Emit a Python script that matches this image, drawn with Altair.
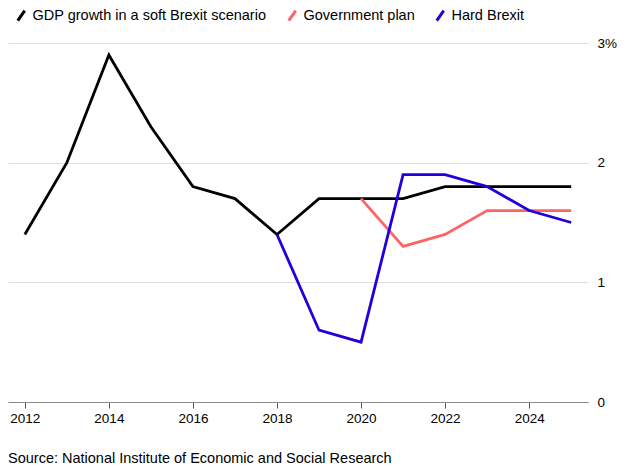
import altair as alt
import pandas as pd

# ---- data ----
soft_years = list(range(2012, 2026))
soft_values = [1.4, 2.0, 2.9, 2.3, 1.8, 1.7, 1.4, 1.7, 1.7, 1.7, 1.8, 1.8, 1.8, 1.8]

gov_years = list(range(2020, 2026))
gov_values = [1.7, 1.3, 1.4, 1.6, 1.6, 1.6]

hard_years = list(range(2018, 2026))
hard_values = [1.4, 0.6, 0.5, 1.9, 1.9, 1.8, 1.6, 1.5]

series_names = ["GDP growth in a soft Brexit scenario", "Government plan", "Hard Brexit"]
series_colors = ["#000000", "#fd6464", "#2200dd"]

x_ticks = [2012, 2014, 2016, 2018, 2020, 2022, 2024]
y_ticks = [0, 1, 2, 3]
source_text = "Source: National Institute of Economic and Social Research"

FONT = "Liberation Sans"

rows = []
for name, yrs, vals in zip(series_names,
                           [soft_years, gov_years, hard_years],
                           [soft_values, gov_values, hard_values]):
    for yr, v in zip(yrs, vals):
        rows.append({"series": name, "year": yr, "value": v})
df = pd.DataFrame(rows)

chart = alt.Chart(df).mark_line(strokeWidth=2.8).encode(
    x=alt.X(
        "year:Q",
        scale=alt.Scale(domain=[2011.6, 2025.4], nice=False, zero=False),
        axis=alt.Axis(
            values=x_ticks, format="d", title=None, grid=False,
            domainColor="#888888", domainWidth=1,
            tickColor="#555555", tickSize=6, tickWidth=1,
            labelPadding=3, labelFontSize=13.5, labelColor="#000000",
            labelFont=FONT,
        ),
    ),
    y=alt.Y(
        "value:Q",
        scale=alt.Scale(domain=[0, 3], nice=False),
        axis=alt.Axis(
            orient="right", values=y_ticks, title=None,
            labelExpr="datum.value == 3 ? '3%' : datum.label",
            domain=False, ticks=False, grid=True,
            gridColor="#dddddd", gridWidth=1,
            labelPadding=9, labelFontSize=13.5, labelColor="#000000",
            labelFont=FONT,
        ),
    ),
    color=alt.Color(
        "series:N",
        scale=alt.Scale(domain=series_names, range=series_colors),
        legend=alt.Legend(
            title=None, orient="none", legendX=6, legendY=-35,
            direction="horizontal",
            symbolType="M-0.7,1L0.7,-1", symbolSize=100,
            symbolStrokeWidth=3, labelOffset=4, columnPadding=15,
            labelFontSize=14.5, labelFont=FONT, labelColor="#000000",
            labelLimit=400, padding=0,
        ),
    ),
).properties(
    width=580,
    height=359,
    padding=0,
    title=alt.TitleParams(
        source_text, orient="bottom", anchor="start", fontSize=14.5,
        fontWeight="normal", font=FONT, color="#000000",
        baseline="top", offset=27,
    ),
).configure_view(stroke=None)

chart.save("out.html", embed_options={"renderer": "svg", "actions": False})
